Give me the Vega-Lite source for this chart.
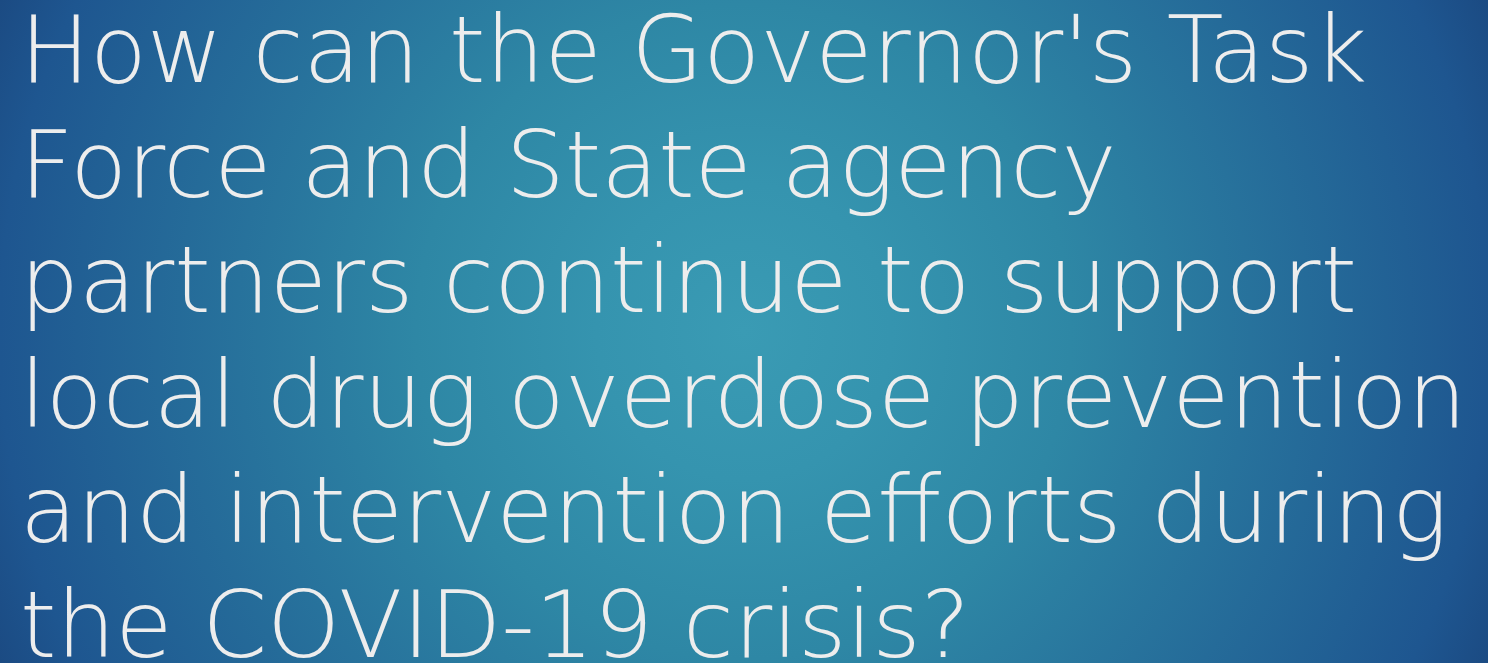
{
  "$schema": "https://vega.github.io/schema/vega-lite/v6.json",
  "autosize": "none",
  "width": 1488,
  "height": 663,
  "padding": 0,
  "background": "#1B4A82",
  "config": {"view": {"stroke": null}},
  "data": {"values": [
    {"line": 1, "text": "How can the Governor's Task"},
    {"line": 2, "text": "Force and State agency"},
    {"line": 3, "text": "partners continue to support"},
    {"line": 4, "text": "local drug overdose prevention"},
    {"line": 5, "text": "and intervention efforts during"},
    {"line": 6, "text": "the COVID-19 crisis?"}
  ]},
  "layer": [
    {
      "mark": {
        "type": "rect",
        "fill": {
          "gradient": "radial",
          "x1": 0.5, "y1": 0.5, "r1": 0,
          "x2": 0.5, "y2": 0.5, "r2": 0.55,
          "stops": [
            {"offset": 0, "color": "#3A9BB4"},
            {"offset": 0.18, "color": "#3594AF"},
            {"offset": 0.4, "color": "#2E87A5"},
            {"offset": 0.91, "color": "#1E5690"},
            {"offset": 1, "color": "#1B4A82"}
          ]
        }
      },
      "encoding": {
        "x": {"value": 0},
        "x2": {"value": "width"},
        "y": {"value": 0},
        "y2": {"value": "height"}
      }
    },
    {
      "mark": {
        "type": "text",
        "align": "left",
        "baseline": "alphabetic",
        "font": "DejaVu Sans",
        "fontWeight": 200,
        "fontSize": 93,
        "color": "#EDEDED"
      },
      "encoding": {
        "x": {"datum": 0, "type": "quantitative", "scale": {"domain": [-0.0136, 1]}, "axis": null},
        "y": {"field": "line", "type": "quantitative", "scale": {"domain": [0.287, 6.052], "reverse": true, "zero": false, "nice": false}, "axis": null},
        "text": {"field": "text"}
      }
    }
  ]
}
